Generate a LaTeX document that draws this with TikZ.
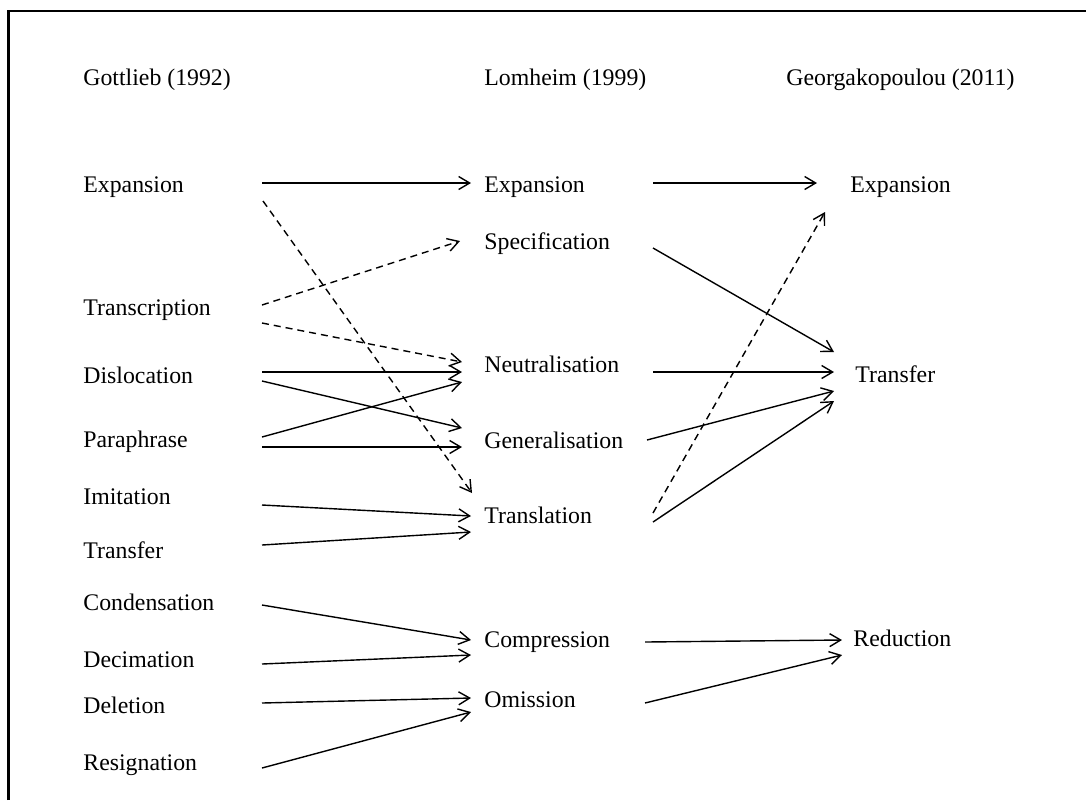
\documentclass[tikz,border=0pt]{standalone}
\usepackage{fontspec}
\setmainfont{Liberation Serif}
\usetikzlibrary{arrows.meta,calc}
\begin{document}
\begin{tikzpicture}[x=0.5pt,y=-0.5pt,
  lbl/.style={anchor=base west,inner sep=0pt,font=\fontsize{11.9}{14}\selectfont},
  link/.style={line width=0.7pt,-{Straight Barb[length=5.5pt,width=6.5pt,line width=0.7pt]}},
  dlink/.style={link,dash pattern=on 3.5pt off 2.5pt}]
\useasboundingbox (0,0) rectangle (1086,800);
% frame
\draw[line width=1.2pt] (8.5,800) -- (8.5,11) -- (1086,11);

% column headings
\node[lbl] (hG) at (83,85) {Gottlieb (1992)};
\node[lbl] (hL) at (484,85) {Lomheim (1999)};
\node[lbl] (hR) at (786,85) {Georgakopoulou (2011)};

% Gottlieb
\node[lbl] (Lexp) at (83,192) {Expansion};
\node[lbl] (Ltrc) at (83,315) {Transcription};
\node[lbl] (Ldis) at (83,383) {Dislocation};
\node[lbl] (Lpar) at (83,447) {Paraphrase};
\node[lbl] (Limi) at (83,504) {Imitation};
\node[lbl] (Ltrf) at (83,558) {Transfer};
\node[lbl] (Lcon) at (83,610) {Condensation};
\node[lbl] (Ldec) at (83,667) {Decimation};
\node[lbl] (Ldel) at (83,713) {Deletion};
\node[lbl] (Lres) at (83,770) {Resignation};

% Lomheim
\node[lbl] (Mexp) at (484,192) {Expansion};
\node[lbl] (Mspe) at (484,249) {Specification};
\node[lbl] (Mneu) at (484,372) {Neutralisation};
\node[lbl] (Mgen) at (484,448) {Generalisation};
\node[lbl] (Mtra) at (484,523) {Translation};
\node[lbl] (Mcom) at (484,647) {Compression};
\node[lbl] (Mom)  at (484,707) {Omission};

% Georgakopoulou
\node[lbl] (Rexp) at (850,192) {Expansion};
\node[lbl] (Rtrf) at (855,382) {Transfer};
\node[lbl] (Rred) at (853,646) {Reduction};

% Gottlieb -> Lomheim
\draw[link]  ($(Lexp.base west)+(179,-9)$) -- ($(Mexp.base west)+(-13,-9)$);
\draw[dlink] ($(Lexp.base west)+(180,9)$)  -- ($(Mtra.base west)+(-12,-30)$);
\draw[dlink] ($(Ltrc.base west)+(179,-10)$) -- ($(Mspe.base west)+(-24,-8)$);
\draw[dlink] ($(Ltrc.base west)+(179,8)$)  -- ($(Mneu.base west)+(-22,-10)$);
\draw[link]  ($(Ldis.base west)+(179,-11)$) -- ($(Mneu.base west)+(-22,0)$);
\draw[link]  ($(Ldis.base west)+(179,-2)$) -- ($(Mgen.base west)+(-22,-20)$);
\draw[link]  ($(Lpar.base west)+(179,-10)$) -- ($(Mneu.base west)+(-22,10)$);
\draw[link]  ($(Lpar.base west)+(179,0)$)  -- ($(Mgen.base west)+(-22,-1)$);
\draw[link]  ($(Limi.base west)+(179,1)$)  -- ($(Mtra.base west)+(-13,-7)$);
\draw[link]  ($(Ltrf.base west)+(179,-13)$) -- ($(Mtra.base west)+(-13,9)$);
\draw[link]  ($(Lcon.base west)+(179,-5)$) -- ($(Mcom.base west)+(-13,-7)$);
\draw[link]  ($(Ldec.base west)+(179,-3)$) -- ($(Mcom.base west)+(-13,8)$);
\draw[link]  ($(Ldel.base west)+(179,-10)$) -- ($(Mom.base west)+(-13,-9)$);
\draw[link]  ($(Lres.base west)+(179,-2)$) -- ($(Mom.base west)+(-13,5)$);

% Lomheim -> Georgakopoulou
\draw[link]  ($(Mexp.base west)+(169,-9)$) -- ($(Rexp.base west)+(-33,-9)$);
\draw[link]  ($(Mspe.base west)+(169,-1)$) -- ($(Rtrf.base west)+(-21,-30)$);
\draw[dlink] ($(Mtra.base west)+(169,-10)$) -- ($(Rexp.base west)+(-25,20)$);
\draw[link]  ($(Mneu.base west)+(169,0)$)  -- ($(Rtrf.base west)+(-21,-10)$);
\draw[link]  ($(Mgen.base west)+(163,-8)$) -- ($(Rtrf.base west)+(-21,9)$);
\draw[link]  ($(Mtra.base west)+(169,-1)$) -- ($(Rtrf.base west)+(-21,19)$);
\draw[link]  ($(Mcom.base west)+(161,-5)$) -- ($(Rred.base west)+(-11,-6)$);
\draw[link]  ($(Mom.base west)+(161,-4)$)  -- ($(Rred.base west)+(-11,9)$);
\end{tikzpicture}
\end{document}
